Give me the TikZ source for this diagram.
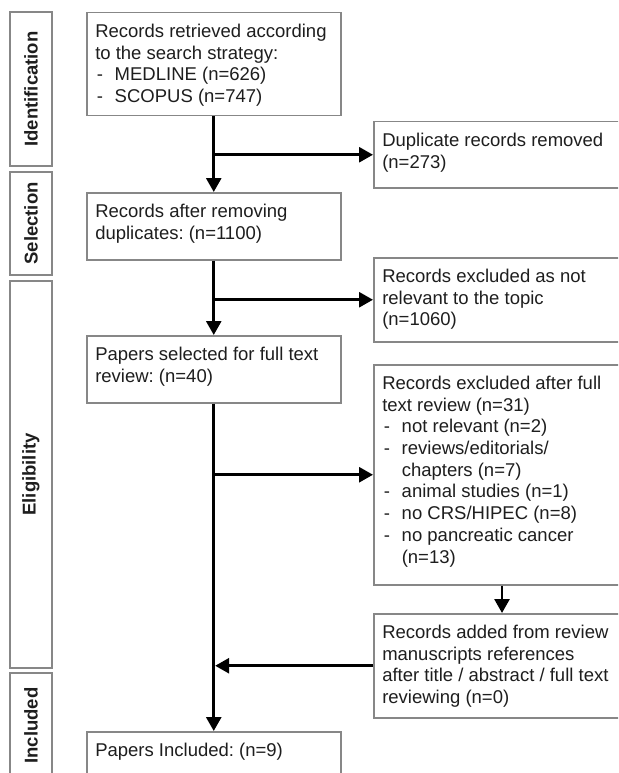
\documentclass[tikz,border=0pt]{standalone}
\usepackage{fontspec}
\setmainfont{Liberation Sans}
\usetikzlibrary{arrows.meta,calc}
\frenchspacing
\definecolor{boxgray}{RGB}{135,135,135}
\definecolor{txtgray}{RGB}{30,30,30}
\newcommand\bx[3]{\parbox[c][#2pt][t]{#1pt}{\vspace*{9.5pt}\leftskip=8.5pt\rightskip=0pt plus 1fil\strut #3}}
\newcommand\itm[1]{\makebox[19.5pt][l]{\hspace{1.5pt}-}#1}
\newcommand\cnt{\hspace*{19.5pt}}
\tikzset{
  mainfont/.style={font=\fontsize{18.5}{21.7}\selectfont, text=txtgray},
  flowbox/.style={draw=boxgray, line width=1.5pt, inner sep=0pt, anchor=north west, mainfont},
  stagebox/.style={draw=boxgray, line width=1.5pt, inner sep=0pt, rotate=90, minimum height=42pt,
     font=\fontsize{18.5}{21.7}\selectfont\bfseries, text=txtgray},
  arr/.style={line width=2.7pt, -{Triangle[length=14pt,width=15pt]}}
}
\begin{document}
\begin{tikzpicture}[x=1pt,y=-1pt]
\clip (0,0) rectangle (618,773);
\fill[white] (0,0) rectangle (618,773);
% stage labels
\node[stagebox, minimum width=154pt] (lid) at (31,89) {Identification};
\node[stagebox, minimum width=103pt] (lse) at (31,223.5) {Selection};
\node[stagebox, minimum width=387pt] (lel) at (31,474.5) {Eligibility};
\node[stagebox, minimum width=105pt] (lin) at (31,725.5) {Included};
% main column
\node[flowbox] (b1) at (86,12) {\bx{254}{103}{Records retrieved according\\to the search strategy:\\\itm{MEDLINE (n=626)}\\\itm{SCOPUS (n=747)}}};
\node[flowbox] (b2) at (86,192) {\bx{254}{67}{Records after removing\\duplicates: (n=1100)}};
\node[flowbox] (b3) at (86,335) {\bx{254}{67}{Papers selected for full text\\review: (n=40)}};
\node[flowbox] (b4) at (86,731) {\bx{254}{60}{Papers Included: (n=9)}};
% right column
\node[flowbox] (r1) at (373,121) {\bx{260}{66}{Duplicate records removed\\(n=273)}};
\node[flowbox] (r2) at (373,257) {\bx{260}{84}{Records excluded as not\\relevant to the topic\\(n=1060)}};
\node[flowbox] (r3) at (373,364) {\bx{260}{220}{Records excluded after full\\text review (n=31)\\\itm{not relevant (n=2)}\\\itm{reviews/editorials/}\\\cnt chapters (n=7)\\\itm{animal studies (n=1)}\\\itm{no CRS/HIPEC (n=8)}\\\itm{no pancreatic cancer}\\\cnt(n=13)}};
\node[flowbox] (r4) at (373,613) {\bx{260}{104}{Records added from review\\manuscripts references\\after title / abstract / full text\\reviewing (n=0)}};
% connectors
\coordinate (xa) at (502,0);
\draw[arr] (b1.south) -- (b2.north);
\draw[arr] (b2.south) -- (b3.north);
\draw[arr] (b3.south) -- (b4.north);
\draw[arr] (b1.south |- r1.west) -- (r1.west);
\draw[arr] (b2.south |- r2.west) -- (r2.west);
\draw[arr] (b3.south |- r3.west) -- (r3.west);
\draw[arr] (r3.south -| xa) -- (r4.north -| xa);
\draw[arr] (r4.west) -- ($(b3.south |- r4.west)+(1.4,0)$);
\end{tikzpicture}
\end{document}
